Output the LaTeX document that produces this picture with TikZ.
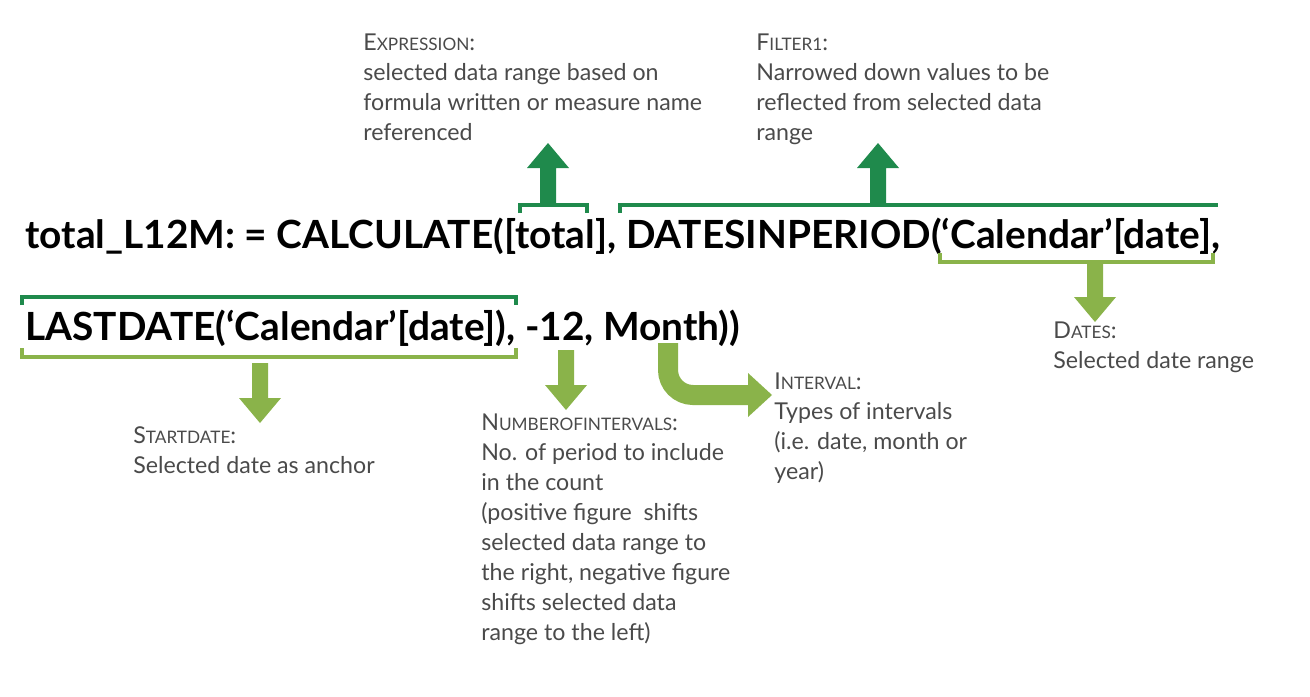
\documentclass[tikz,border=0pt]{standalone}
\usepackage{fontspec}
\setmainfont{Lato}
\usetikzlibrary{positioning}
\definecolor{dkgreen}{HTML}{1F8A4C}
\definecolor{ltgreen}{HTML}{8AB34A}
\definecolor{txtgray}{HTML}{4A4A4A}
\newcommand{\smcap}[2]{#1{\fontsize{9.8}{10}\selectfont #2}:}
\tikzset{
  formula/.style={anchor=base west, inner sep=0pt, font=\fontsize{22.1}{24}\selectfont\bfseries},
  note/.style={anchor=north west, inner sep=0pt, align=left, text=txtgray,
    font=\fontsize{13.2}{17}\selectfont},
  pics/fatup/.style={code={
    \fill (-8,0) -- (-8,35) -- (8,35) -- (8,0) -- (21,0) -- (0,-25) -- (-21,0) -- cycle;}},
}
\begin{document}
\begin{tikzpicture}[x=0.02cm, y=-0.02cm]
  \useasboundingbox (0,0) rectangle (1310,696);

  % formula
  \node[formula] (line1) at (25,248) {total\_L12M: = CALCULATE([total], DATESINPERIOD(‘Calendar’[date],};
  \node[formula] (line2) at (25,340) {LASTDATE(‘Calendar’[date]), -12, Month))};

  % dark green brackets and arrows
  \draw[dkgreen, line width=0.09cm] (520,213) -- (520,205) -- (587,205) -- (587,213);
  \draw[dkgreen, line width=0.09cm] (620,213) -- (620,205) -- (1218,205);
  \draw[dkgreen, line width=0.09cm] (22,305) -- (22,297) -- (516,297) -- (516,305);
  \fill[dkgreen] (548,168) pic {fatup};
  \fill[dkgreen] (878,168) pic {fatup};

  % light green brackets and arrows
  \draw[ltgreen, line width=0.09cm] (940,253) -- (940,262) -- (1213,262) -- (1213,253);
  \draw[ltgreen, line width=0.09cm] (22,348) -- (22,357) -- (516,357) -- (516,348);
  \fill[ltgreen] (1095,297) pic[rotate=180] {fatup};
  \fill[ltgreen] (260,398) pic[rotate=180] {fatup};
  \fill[ltgreen] (566,385) pic[rotate=180] {fatup};
  \draw[ltgreen, line width=0.4cm, rounded corners=0.5cm] (668,343) -- (668,395) -- (750,395);
  \fill[ltgreen] (748,373) -- (772,395) -- (748,417) -- cycle;

  % notes
  \node[note] (expr) at (363,34) {\smcap{E}{XPRESSION}\\selected data range based on\\formula written or measure name\\referenced};
  \node[note] (filt) at (756,34) {\smcap{F}{ILTER1}\\Narrowed down values to be\\reflected from selected data\\range};
  \node[note] (dates) at (1053,322) {\smcap{D}{ATES}\\Selected date range};
  \node[note] (start) at (133,426) {\smcap{S}{TARTDATE}\\Selected date as anchor};
  \node[note] (numb) at (481,414) {\smcap{N}{UMBEROFINTERVALS}\\No. of period to include\\in the count\\(positive figure\ \ shifts\\selected data range to\\the right, negative figure\\shifts selected data\\range to the left)};
  \node[note] (intv) at (774,373) {\smcap{I}{NTERVAL}\\Types of intervals\\(i.e. date, month or\\year)};
\end{tikzpicture}
\end{document}
